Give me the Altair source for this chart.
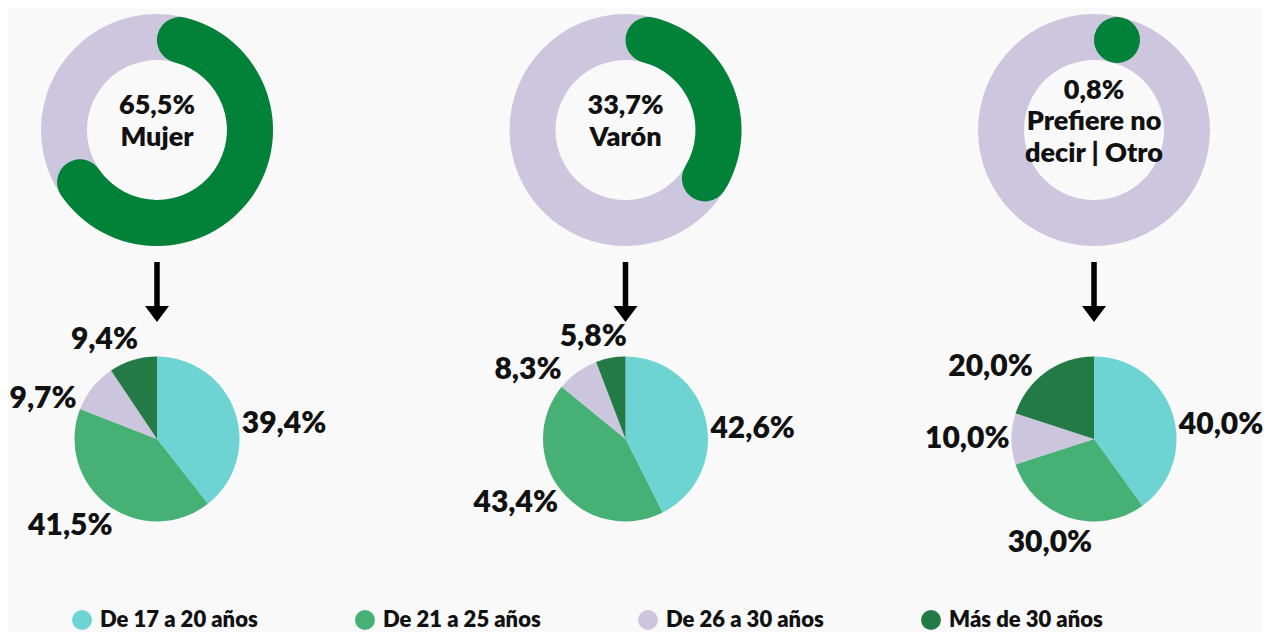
import math
import altair as alt
import pandas as pd

# ---------------- data ----------------
groups = ["Mujer", "Varón", "Otro"]
group_titles = ["Mujer", "Varón", "Prefiere no\ndecir | Otro"]
group_share = [65.5, 33.7, 0.8]

ages = ["De 17 a 20 años", "De 21 a 25 años", "De 26 a 30 años", "Más de 30 años"]
age_colors = ["#6dd3d3", "#46b075", "#cbc5dd", "#237a45"]
share_mujer = [39.4, 41.5, 9.7, 9.4]
share_varon = [42.6, 43.4, 8.3, 5.8]
share_otro = [40.0, 30.0, 10.0, 20.0]

rows = ["donut", "arrow", "pie"]

# ---------------- tables ----------------
donut_df = pd.DataFrame({"group": groups, "title": group_titles,
                         "share": group_share, "row": "donut"})
arrow_df = pd.DataFrame({"group": groups, "row": "arrow"})
pie_records = []
for g, vals in zip(groups, [share_mujer, share_varon, share_otro]):
    for i, (a, v) in enumerate(zip(ages, vals)):
        pie_records.append({"group": g, "age": a, "ord": i, "value": v, "row": "pie"})
pie_df = pd.DataFrame(pie_records)

# ---------------- geometry / style ----------------
R_OUT, R_IN = 116, 70
CAP = 100 * math.asin(((R_OUT - R_IN) / 2) / ((R_OUT + R_IN) / 2)) / (2 * math.pi)
PIE_R = 82.5
FONT = "Lato"
WEIGHT = 800
LINE_H = 31.5

X = alt.X("group:N", scale=alt.Scale(type="point", domain=groups, padding=0.318), axis=None)
Y = alt.Y("row:N", scale=alt.Scale(type="point", domain=rows, padding=0.79), axis=None)
TH = alt.Scale(domain=[0, 100], range=[0, 2 * math.pi])

ring = alt.Chart(donut_df).transform_calculate(
    t0="0", t1="100"
).mark_arc(radius=R_OUT, radius2=R_IN, color="#ccc6de").encode(
    x=X, y=Y,
    theta=alt.Theta("t0:Q", scale=TH, stack=None),
    theta2="t1:Q",
)

green = alt.Chart(donut_df).transform_calculate(
    t0="0", t1=f"max(datum.share + {CAP}, {2 * CAP})"
).mark_arc(radius=R_OUT, radius2=R_IN, cornerRadius=(R_OUT - R_IN) / 2,
           color="#028138").encode(
    x=X, y=Y,
    theta=alt.Theta("t0:Q", scale=TH, stack=None),
    theta2="t1:Q",
)

# centre text: block shifted upward (polar offset towards north) by half its height
center_text = alt.Chart(donut_df).transform_calculate(
    label="replace(format(datum.share, '.1f'), '.', ',') + '%\\n' + datum.title",
    up="0",
).transform_calculate(
    nl="length(split(datum.label, '\\n'))"
).transform_calculate(
    shift=f"(datum.nl - 1) * {LINE_H / 2} + 8"
).mark_text(font=FONT, fontWeight=WEIGHT, fontSize=27, lineBreak="\n",
            lineHeight=LINE_H, baseline="middle", align="center",
            color="#111111").encode(
    x=X, y=Y,
    theta=alt.Theta("up:Q", scale=TH, stack=None),
    radius=alt.Radius("shift:Q", scale=None),
    text="label:N",
)

ARROW_PATH = ("M -0.092 -1 L 0.092 -1 L 0.092 0.467 L 0.4 0.467 "
              "L 0 1 L -0.4 0.467 L -0.092 0.467 Z")
arrows = alt.Chart(arrow_df).mark_point(
    shape=ARROW_PATH, size=3600, filled=True, opacity=1, color="#000000",
    strokeWidth=0, yOffset=7.5
).encode(x=X, y=Y)

pie_base = alt.Chart(pie_df).transform_joinaggregate(
    total="sum(value)", groupby=["group"]
).transform_window(
    cum="sum(value)", groupby=["group"], sort=[alt.SortField("ord")], frame=[None, 0]
).transform_calculate(
    p1="100 * datum.cum / datum.total"
).transform_calculate(
    p0="100 * (datum.cum - datum.value) / datum.total"
).transform_calculate(
    pm="(datum.p0 + datum.p1) / 2"
)

pies = pie_base.mark_arc(radius=PIE_R).encode(
    x=X, y=Y,
    theta=alt.Theta("p0:Q", scale=TH, stack=None),
    theta2="p1:Q",
    color=alt.Color(
        "age:N",
        scale=alt.Scale(domain=ages, range=age_colors),
        legend=alt.Legend(
            orient="none", legendX=63, legendY=601, direction="horizontal",
            columns=4, columnPadding=96, symbolType="circle", symbolSize=400,
            symbolStrokeWidth=0, symbolOpacity=1, labelFont=FONT,
            labelFontSize=22, labelFontWeight=WEIGHT, labelColor="#111111",
            labelOffset=7, labelLimit=400, title=None, padding=0,
        ),
    ),
)

# outside labels: angle pushed toward the horizontal, radius grows with text box
labels = pie_base.transform_calculate(
    label="replace(format(datum.value, '.1f'), '.', ',') + '%'"
).transform_calculate(
    w="length(datum.label) * 16.5",
    ang0="datum.pm * 2 * PI / 100",
).transform_calculate(
    ang="datum.ang0 + (cos(datum.ang0) > 0 ? 0.35 : 0.15) * sin(2 * datum.ang0)"
).transform_calculate(
    pl="datum.ang * 100 / (2 * PI)",
    rl=f"{PIE_R + 3} + abs(sin(datum.ang)) * datum.w / 2 + abs(cos(datum.ang)) * 12",
).mark_text(font=FONT, fontWeight=WEIGHT, fontSize=30, align="center",
            baseline="middle", color="#111111").encode(
    x=X, y=Y,
    theta=alt.Theta("pl:Q", scale=TH, stack=None),
    radius=alt.Radius("rl:Q", scale=None),
    text="label:N",
)

chart = alt.layer(ring, green, center_text, arrows, pies, labels).properties(
    width=1235, height=553,
    padding={"left": 0, "top": 0, "right": 20, "bottom": 71},
    autosize=alt.AutoSizeParams(type="none"),
).configure(background="#f9f9f9").configure_view(stroke=None)

chart.save("out.html", embed_options={"renderer": "svg", "actions": False})
